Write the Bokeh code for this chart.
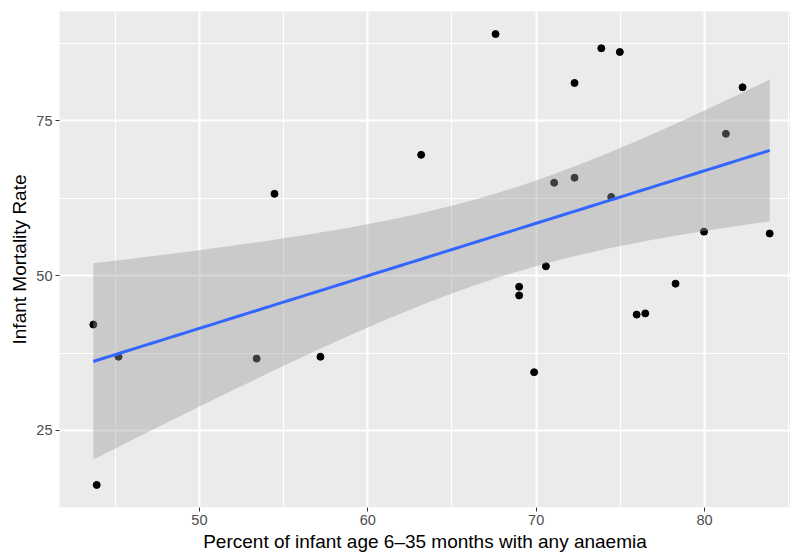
import numpy as np
from bokeh.plotting import figure
from bokeh.models import Range1d, FixedTicker, ColumnDataSource
from bokeh.embed import file_html
from bokeh.resources import INLINE

# ---- data ----
anaemia = [43.70, 43.90, 45.20, 53.40, 54.46, 57.19, 63.17, 67.59, 68.99, 68.99,
           69.88, 70.58, 71.07, 72.28, 72.28, 73.87, 74.46, 74.97, 75.97, 76.48,
           78.28, 79.97, 81.27, 82.26, 83.87]
imr = [42.1, 16.2, 36.9, 36.6, 63.2, 36.9, 69.5, 89.0, 48.2, 46.8,
       34.4, 51.5, 65.0, 81.1, 65.8, 86.7, 62.7, 86.1, 43.7, 43.9,
       48.7, 57.1, 72.9, 80.4, 56.8]
x_ticks = [50, 60, 70, 80]
x_minor = [45, 55, 65, 75, 85]
y_ticks = [25, 50, 75]
y_minor = [12.5, 37.5, 62.5, 87.5]
x_title = "Percent of infant age 6\u201335 months with any anaemia"
y_title = "Infant Mortality Rate"

# ---- linear model with 95% confidence band (as geom_smooth(method="lm")) ----
x = np.array(anaemia)
y = np.array(imr)
n = len(x)
slope, intercept = np.polyfit(x, y, 1)
xs = np.linspace(x.min(), x.max(), 80)
fit = intercept + slope * xs
resid = y - (intercept + slope * x)
s = np.sqrt(np.sum(resid ** 2) / (n - 2))
sxx = np.sum((x - x.mean()) ** 2)
se = s * np.sqrt(1.0 / n + (xs - x.mean()) ** 2 / sxx)
t975 = 2.068658  # t quantile, df = 23
band = ColumnDataSource(dict(x=xs, lo=fit - t975 * se, hi=fit + t975 * se, fit=fit))
pts = ColumnDataSource(dict(x=anaemia, y=imr))

# ranges with ggplot's 5% expansion (right side cropped as in the reference)
xpad = 0.05 * (x.max() - x.min())
ypad = 0.05 * (y.max() - y.min())
x_lo = x.min() - xpad
x_hi_full = x.max() + xpad
x_hi = x_lo + (x_hi_full - x_lo) * 731.0 / 744.0

p = figure(width=790, height=554, output_backend="svg", toolbar_location=None,
           x_range=Range1d(x_lo, x_hi),
           y_range=Range1d(y.min() - ypad, y.max() + ypad),
           min_border_left=59, min_border_right=0, min_border_top=11, min_border_bottom=46)
p.background_fill_color = "#EBEBEB"
p.border_fill_color = "white"
p.outline_line_color = None

p.xaxis.ticker = FixedTicker(ticks=x_ticks, minor_ticks=x_minor)
p.yaxis.ticker = FixedTicker(ticks=y_ticks, minor_ticks=y_minor)
for ax in (p.xaxis, p.yaxis):
    ax.axis_line_color = None
    ax.major_tick_line_color = "#333333"
    ax.major_tick_line_width = 1
    ax.major_tick_out = 4
    ax.major_tick_in = 0
    ax.minor_tick_line_color = None
    ax.major_label_text_font = "Liberation Sans"
    ax.major_label_text_font_size = "14.5px"
    ax.major_label_text_color = "#4D4D4D"
    ax.major_label_standoff = 3
    ax.axis_label_text_font = "Liberation Sans"
    ax.axis_label_text_font_size = "19px"
    ax.axis_label_text_font_style = "normal"
    ax.axis_label_text_color = "black"
    ax.axis_label_standoff = 3
p.xaxis.axis_label = x_title
p.yaxis.axis_label = y_title

for g in (p.xgrid, p.ygrid):
    g.grid_line_color = "white"
    g.grid_line_width = 2
    g.minor_grid_line_color = "white"
    g.minor_grid_line_width = 1

p.scatter("x", "y", source=pts, size=7, color="black")
p.varea(x="x", y1="lo", y2="hi", source=band, fill_color="#999999", fill_alpha=0.4)
p.line("x", "fit", source=band, line_color="#3366FF", line_width=3)

open("out.html", "w").write(file_html(p, INLINE))
